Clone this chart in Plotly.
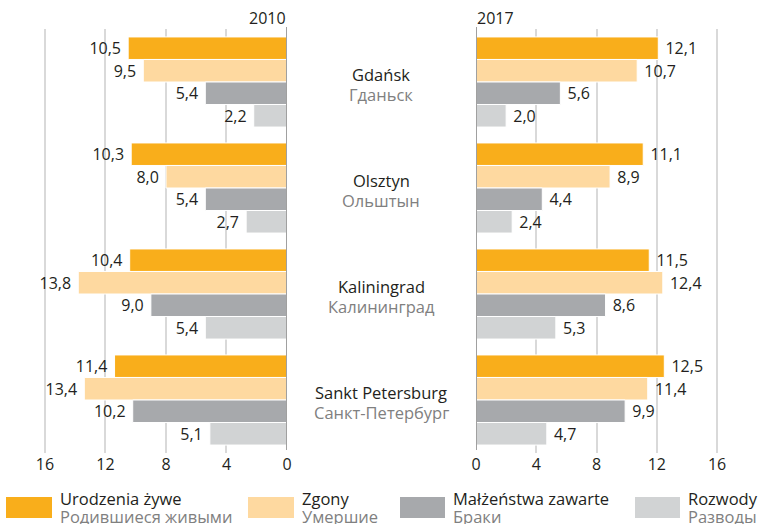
import plotly.graph_objects as go
from plotly.subplots import make_subplots

cities_pl = ["Gdańsk", "Olsztyn", "Kaliningrad", "Sankt Petersburg"]
cities_ru = ["Гданьск", "Ольштын", "Калининград", "Санкт-Петербург"]
series_pl = ["Urodzenia żywe", "Zgony", "Małżeństwa zawarte", "Rozwody"]
series_ru = ["Родившиеся живыми", "Умершие", "Браки", "Разводы"]
colors = ["#F9AE1B", "#FED9A0", "#A7A9AC", "#D1D3D4"]

v2010 = {
    "Urodzenia żywe": [10.5, 10.3, 10.4, 11.4],
    "Zgony": [9.5, 8.0, 13.8, 13.4],
    "Małżeństwa zawarte": [5.4, 5.4, 9.0, 10.2],
    "Rozwody": [2.2, 2.7, 5.4, 5.1],
}
v2017 = {
    "Urodzenia żywe": [12.1, 11.1, 11.5, 12.5],
    "Zgony": [10.7, 8.9, 12.4, 11.4],
    "Małżeństwa zawarte": [5.6, 4.4, 8.6, 9.9],
    "Rozwody": [2.0, 2.4, 5.3, 4.7],
}
tickvals = [0, 4, 8, 12, 16]

W, H = 762, 524
T, B = 29, 71
FONT = "Open Sans"
TXT = "#231F20"
NB = "\u00a0"

fig = make_subplots(rows=1, cols=2, horizontal_spacing=0.1)

for col, data in ((1, v2010), (2, v2017)):
    tmpl = "%{x:.1f}" + NB if col == 1 else NB + "%{x:.1f}"
    for s, c in zip(series_pl, colors):
        fig.add_trace(go.Bar(
            y=cities_pl, x=data[s], orientation="h", name=s,
            marker=dict(color=c, line=dict(color="white", width=1)),
            texttemplate=tmpl, textposition="outside",
            textfont=dict(family=FONT, size=16, color=TXT),
            cliponaxis=False, showlegend=False, hoverinfo="skip",
        ), row=1, col=col)

def px2x(p):
    return p / W

def py2y(p):
    return (H - B - p) / (H - T - B)

fig.update_layout(
    width=W, height=H, barmode="group", bargap=0.15, bargroupgap=0.0,
    margin=dict(l=0, r=0, t=T, b=B, autoexpand=False),
    plot_bgcolor="white", paper_bgcolor="white",
    separators=", ",
    font=dict(family=FONT, size=15, color=TXT),
    xaxis=dict(domain=[42.7 / W, 287 / W], range=[16.15, 0], tickvals=tickvals,
               showgrid=True, gridcolor="#D9D9D9", gridwidth=1.5, zeroline=False,
               ticks="", tickfont=dict(family=FONT, size=16, color=TXT)),
    xaxis2=dict(domain=[476 / W, 719.3 / W], range=[0, 16.15], tickvals=tickvals,
                showgrid=True, gridcolor="#D9D9D9", gridwidth=1.5, zeroline=False,
                ticks="", tickfont=dict(family=FONT, size=16, color=TXT)),
    yaxis=dict(autorange="reversed", showticklabels=False, showgrid=False, zeroline=False),
    yaxis2=dict(autorange="reversed", showticklabels=False, showgrid=False, zeroline=False),
)

shapes = []
# zero axis lines
shapes.append(dict(type="line", xref="x", yref="paper", x0=0, x1=0, y0=py2y(450), y1=py2y(27),
                   line=dict(color="#A0A0A0", width=2), layer="above"))
shapes.append(dict(type="line", xref="x2", yref="paper", x0=0, x1=0, y0=py2y(450), y1=py2y(27),
                   line=dict(color="#A0A0A0", width=2), layer="above"))

annotations = []
# year titles
annotations.append(dict(text="2010", xref="paper", yref="paper", x=px2x(288), y=py2y(18),
                        xanchor="right", yanchor="middle", showarrow=False,
                        font=dict(family=FONT, size=16, color=TXT)))
annotations.append(dict(text="2017", xref="paper", yref="paper", x=px2x(475), y=py2y(18),
                        xanchor="left", yanchor="middle", showarrow=False,
                        font=dict(family=FONT, size=16, color=TXT)))

# city labels
for pl, ru in zip(cities_pl, cities_ru):
    annotations.append(dict(text=pl, xref="paper", yref="y", x=px2x(381), y=pl,
                            xanchor="center", yanchor="middle", yshift=8, showarrow=False,
                            font=dict(family=FONT, size=16.5, color=TXT)))
    annotations.append(dict(text=ru, xref="paper", yref="y", x=px2x(381), y=pl,
                            xanchor="center", yanchor="middle", yshift=-12, showarrow=False,
                            font=dict(family=FONT, size=16.5, color="#808080")))

# legend
leg_sq = [(6, 52), (248, 294), (400, 445), (635, 680)]
for (x0, x1), pl, ru, c in zip(leg_sq, series_pl, series_ru, colors):
    shapes.append(dict(type="rect", xref="paper", yref="paper",
                       x0=px2x(x0), x1=px2x(x1), y0=py2y(518), y1=py2y(497),
                       fillcolor=c, line=dict(width=0)))
    annotations.append(dict(text=pl, xref="paper", yref="paper", x=px2x(x1 + 6), y=py2y(499),
                            xanchor="left", yanchor="middle", showarrow=False,
                            font=dict(family=FONT, size=16.5, color=TXT)))
    annotations.append(dict(text=ru, xref="paper", yref="paper", x=px2x(x1 + 6), y=py2y(516),
                            xanchor="left", yanchor="middle", showarrow=False,
                            font=dict(family=FONT, size=16.5, color="#808080")))

fig.update_layout(shapes=shapes, annotations=annotations)
fig.write_html("out.html", config={"displayModeBar": False},
               post_script="document.body.style.margin='0';document.body.style.overflow='hidden';")
